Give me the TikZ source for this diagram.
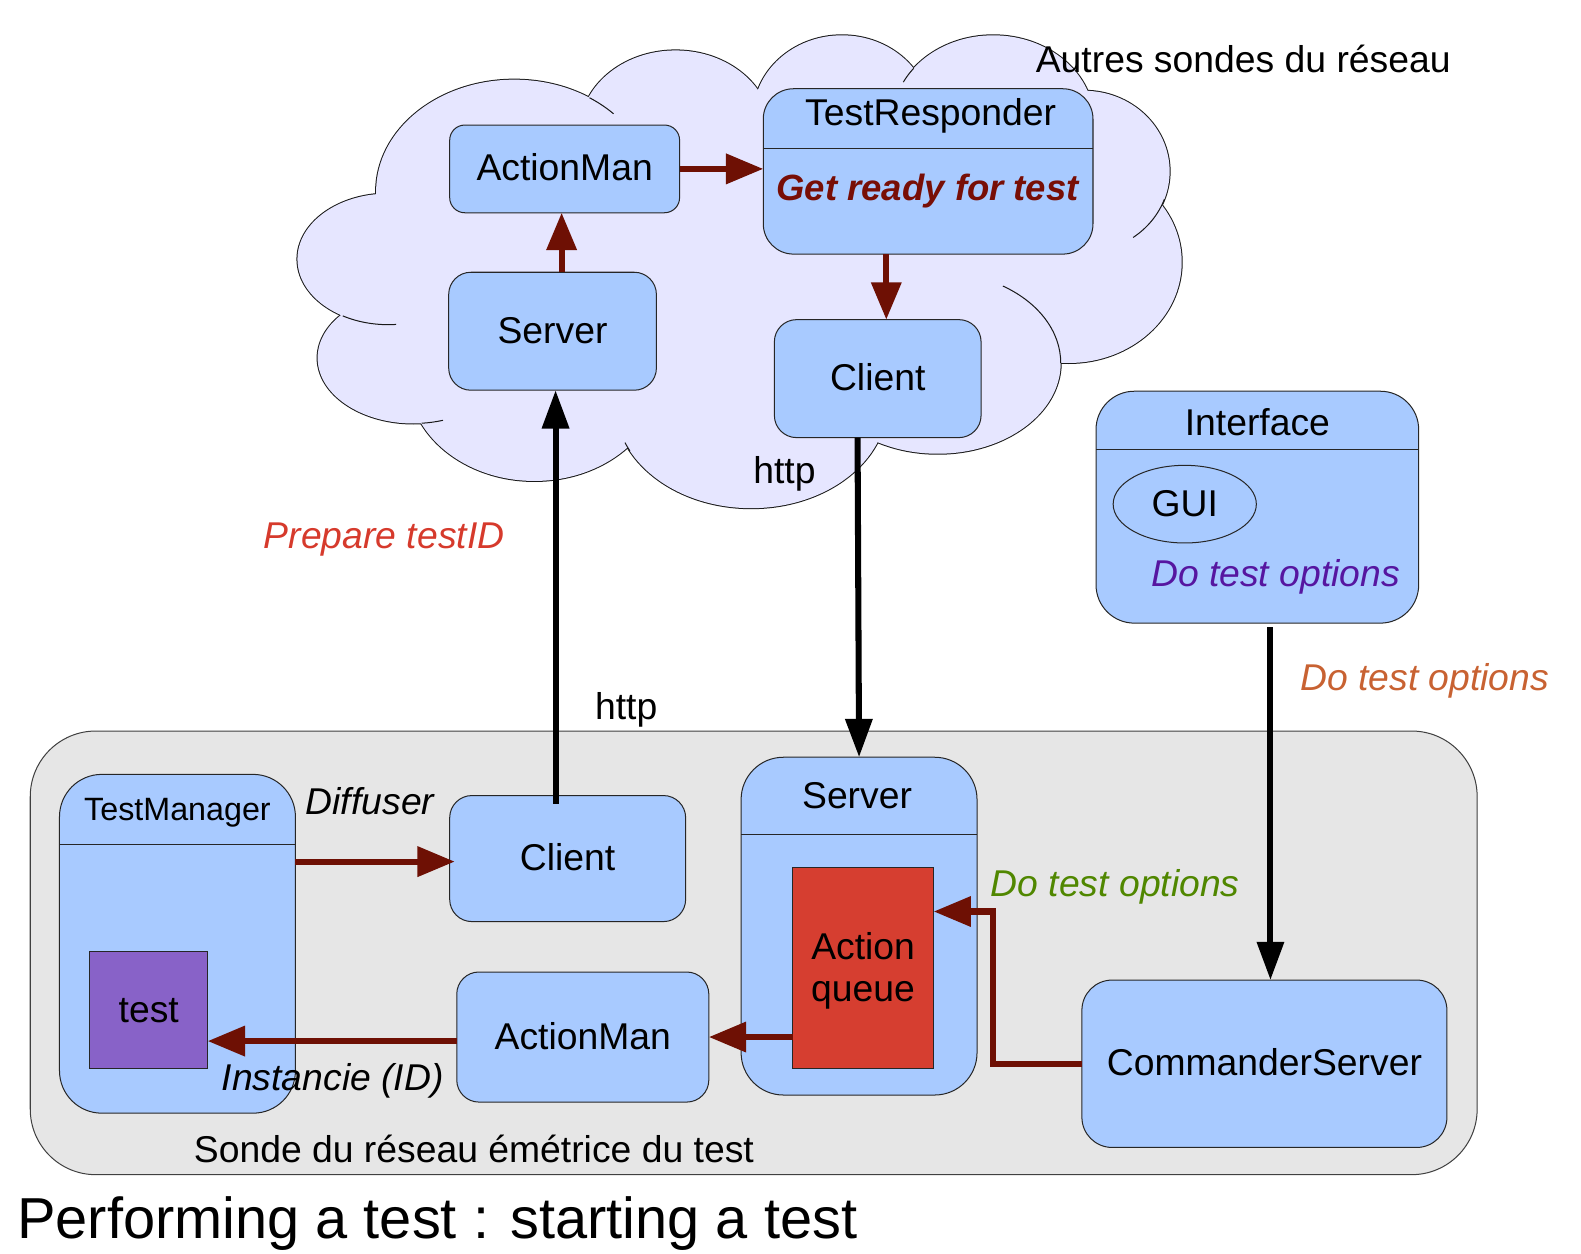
\documentclass[tikz,border=0pt]{standalone}
\usepackage{fontspec}
\setmainfont{Liberation Sans}
\usetikzlibrary{arrows.meta,calc,shapes.geometric}
\definecolor{cloudfill}{RGB}{230,230,255}
\definecolor{boxfill}{RGB}{168,202,255}
\definecolor{panelfill}{RGB}{230,230,230}
\definecolor{arrowred}{RGB}{110,16,4}
\definecolor{grtext}{RGB}{120,14,6}
\definecolor{aqred}{RGB}{214,62,48}
\definecolor{testpurple}{RGB}{136,98,200}
\definecolor{preparered}{RGB}{214,58,44}
\definecolor{ifpurple}{RGB}{86,22,160}
\definecolor{dtoorange}{RGB}{200,98,50}
\definecolor{dtogreen}{RGB}{80,135,0}
\begin{document}
\begin{tikzpicture}[x=1pt,y=-1pt,
  every node/.style={font=\fontsize{37}{44}\selectfont, inner sep=0pt, outer sep=0pt},
  box/.style={draw=black!85, line width=1pt, fill=boxfill, rounded corners=#1},
  box/.default=22pt,
  txt/.style={text height=27pt, text depth=3pt},
  itl/.style={txt, font=\fontsize{37}{44}\selectfont\itshape},
  redarrow/.style={draw=arrowred, line width=6pt, -{Triangle[length=37pt,width=29pt]}},
  blkarrow/.style={draw=black, line width=6pt, -{Triangle[length=38pt,width=26pt]}},
  cloudline/.style={draw=black!90, line width=1pt},
  hline/.style={draw=black!85, line width=1pt},
]
\useasboundingbox (0,0) rectangle (1568,1243);
% ---------- bottom panel
\node[draw=black!75, line width=1pt, fill=panelfill, rounded corners=65pt,
      minimum width=1435pt, minimum height=440pt] (panel) at (747.5,945) {};
% ---------- cloud
\foreach \cx/\cy/\rx/\ry in {510/190/137/111,670/130/95/80,835/115/88/80,985/120/100/85,
    1075/170/85/80,1060/260/112/100,930/360/122/90,745/400/135/104,530/375/125/102,
    410/355/95/65,385/257/90/65}
  \draw[black!90, line width=2pt] (\cx,\cy) ellipse [x radius=\rx, y radius=\ry];
\foreach \cx/\cy/\rx/\ry in {510/190/137/111,670/130/95/80,835/115/88/80,985/120/100/85,
    1075/170/85/80,1060/260/112/100,930/360/122/90,745/400/135/104,530/375/125/102,
    410/355/95/65,385/257/90/65}
  \fill[cloudfill] (\cx,\cy) ellipse [x radius=\rx, y radius=\ry];
\fill[cloudfill] (510,190) -- (670,130) -- (835,115) -- (985,120) -- (1075,170) -- (1060,260)
  -- (930,360) -- (745,400) -- (530,375) -- (410,355) -- (385,257) -- cycle;
% inner tails of the cloud lobes
\draw[cloudline] ([shift={(510,190)}]-57:137 and 111) arc[start angle=-57, end angle=-44, x radius=137, y radius=111];
\draw[cloudline] ([shift={(985,120)}]207:100 and 85) arc[start angle=207, end angle=218, x radius=100, y radius=85];
\draw[cloudline] ([shift={(1075,170)}]20:85 and 80) arc[start angle=20, end angle=55, x radius=85, y radius=80];
\draw[cloudline] ([shift={(930,360)}]-58:122 and 90) arc[start angle=-58, end angle=0, x radius=122, y radius=90];
\draw[cloudline] ([shift={(385,257)}]85:90 and 65) arc[start angle=85, end angle=120, x radius=90, y radius=65];
\draw[cloudline] ([shift={(410,355)}]72:95 and 65) arc[start angle=72, end angle=85, x radius=95, y radius=65];
\draw[cloudline] ([shift={(745,400)}]153:135 and 104) arc[start angle=153, end angle=158, x radius=135, y radius=104];
\node[txt] (autres) at (1233,60) {Autres sondes du réseau};
% ---------- boxes in the cloud
\node[box=15pt, minimum width=228pt, minimum height=87pt, txt] (am1) at (560,167.5) {ActionMan};
\node[box=30pt, minimum width=327pt, minimum height=164pt] (tr) at (920.5,170) {};
\draw[hline] ($(tr.north west)+(0,59)$) -- ($(tr.north east)+(0,59)$);
\node[txt] (trt) at (923,112) {TestResponder};
\node[txt, font=\fontsize{36.2}{42}\selectfont\bfseries\itshape, text=grtext] (gr) at (920,187) {Get ready for test};
\node[box, minimum width=206pt, minimum height=117pt, txt] (sv1) at (548,328.5) {Server};
\node[box, minimum width=205pt, minimum height=117pt, txt] (cl1) at (870.5,375.5) {Client};
% ---------- interface
\node[box=38pt, minimum width=320pt, minimum height=230pt] (if) at (1247,503) {};
\draw[hline] ($(if.north west)+(0,58)$) -- ($(if.north east)+(0,58)$);
\node[txt] (ift) at (1247,420) {Interface};
\node[draw=black!85, line width=1pt, ellipse, minimum width=142pt, minimum height=77pt] (gui) at (1175,500) {};
\node[txt] (guit) at (1175,500) {GUI};
\node[itl, text=ifpurple] (ifdto) at (1265,570) {Do test options};
% ---------- bottom boxes
\node[box=42pt, minimum width=234pt, minimum height=336pt] (tm) at (176,936) {};
\draw[hline] ($(tm.north west)+(0,70)$) -- ($(tm.north east)+(0,70)$);
\node[txt, font=\fontsize{32}{38}\selectfont] (tmt) at (176,802) {TestManager};
\node[draw=black!85, line width=1pt, fill=testpurple, minimum width=117pt, minimum height=116pt, txt] (tst) at (147.5,1002) {test};
\node[box, minimum width=234pt, minimum height=125pt, txt] (cl2) at (563,851.5) {Client};
\node[box, minimum width=250pt, minimum height=129pt, txt] (am2) at (578,1028.5) {ActionMan};
\node[box=42pt, minimum width=234pt, minimum height=335pt] (sv2) at (852,918.5) {};
\draw[hline] ($(sv2.north west)+(0,77)$) -- ($(sv2.north east)+(0,77)$);
\node[txt] (sv2t) at (850,790) {Server};
\node[draw=black!85, line width=1pt, fill=aqred, minimum width=140pt, minimum height=200pt] (aq) at (856,960) {};
\node[align=center, font=\fontsize{37}{42}\selectfont] (aqt) at (856,963) {Action\\queue};
\node[box=30pt, minimum width=362pt, minimum height=166pt, txt] (cs) at (1254,1055) {CommanderServer};
% ---------- connectors
\draw[redarrow] (am1.east) -- (am1.east -| tr.west);
\draw[redarrow] ([xshift=9pt]sv1.north) -- ([xshift=9pt]sv1.north |- am1.south);
\draw[redarrow] ([xshift=-41.5pt]tr.south) -- ([xshift=-41.5pt]tr.south |- cl1.north);
\draw[blkarrow] ([xshift=-20pt]cl1.south) -- (sv2.north);
\draw[blkarrow] ([xshift=-12pt,yshift=-8pt]cl2.north) -- ([xshift=-12pt]cl2.north |- sv1.south);
\draw[blkarrow] ([xshift=13pt,yshift=-4pt]if.south) -- ([xshift=13pt]if.south |- cs.north);
\coordinate (cl2in) at ([xshift=5pt,yshift=-3pt]cl2.west);
\draw[redarrow] (tm.east |- cl2in) -- (cl2in);
\coordinate (am2out) at ([yshift=-4pt]am2.west);
\draw[redarrow] (am2out) -- (am2out -| tst.east);
\draw[redarrow] (aq.west |- am2.east) -- (am2.east);
\draw[redarrow] (cs.west) -- ++(-88,0) |- ([yshift=56pt]aq.east);
% ---------- labels
\node[txt] (http1) at (778,468) {http};
\node[txt] (http2) at (621,702) {http};
\node[itl, text=preparered] (prep) at (381,532) {Prepare testID};
\node[itl, text=dtoorange] (dto) at (1413,673) {Do test options};
\node[itl] (diff) at (367,796) {Diffuser};
\node[itl] (inst) at (330,1070) {Instancie (ID)};
\node[itl, text=dtogreen] (dtog) at (1106,877) {Do test options};
\node[txt] (sonde) at (470,1141) {Sonde du réseau émétrice du test};
\node[anchor=west, font=\fontsize{57.3}{68}\selectfont, text height=42pt, text depth=5pt] (title) at (17,1210) {Performing a test : starting a test};
\end{tikzpicture}
\end{document}
